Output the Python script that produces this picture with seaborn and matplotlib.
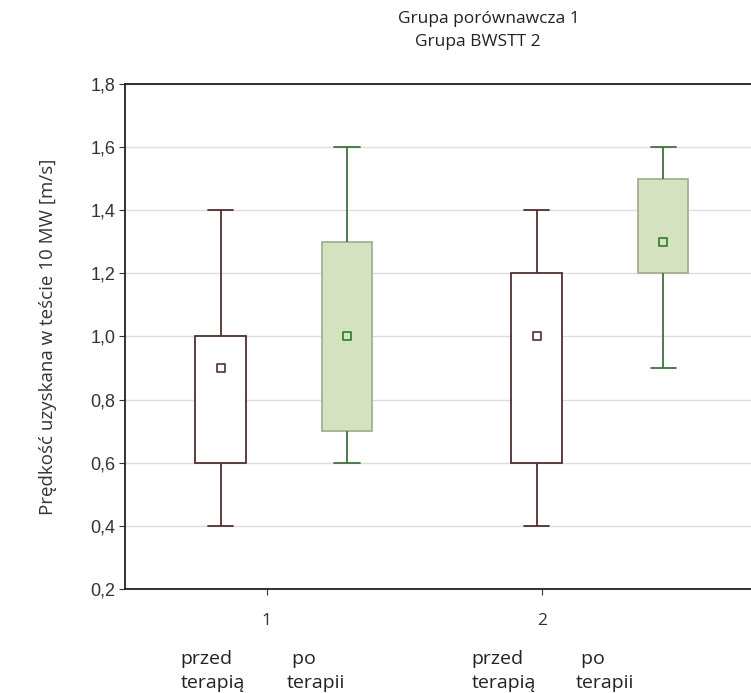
import pandas as pd
import numpy as np
import seaborn as sns
import matplotlib.pyplot as plt

# %%
# min, Q1, mediana, Q3, max
grupy = ['1', '2']
etapy = ['przed', 'po']
przed_1 = [0.4, 0.6, 0.9, 1.0, 1.4]
po_1 = [0.6, 0.7, 1.0, 1.3, 1.6]
przed_2 = [0.4, 0.6, 1.0, 1.2, 1.4]
po_2 = [0.9, 1.2, 1.3, 1.5, 1.6]
y_ticks = [0.2, 0.4, 0.6, 0.8, 1.0, 1.2, 1.4, 1.6, 1.8]

rows = []
for g, e, vals in [('1', 'przed', przed_1), ('1', 'po', po_1),
                   ('2', 'przed', przed_2), ('2', 'po', po_2)]:
    for v in vals:
        rows.append({'grupa': g, 'etap': e, 'v': v})
df = pd.DataFrame(rows)
med = df.groupby(['grupa', 'etap'], sort=False)['v'].median().reset_index()

# %%
sns.set_theme(style='white')
plt.rcParams['font.family'] = ['Open Sans', 'DejaVu Sans']

fig = plt.figure(figsize=(7.51, 6.93), dpi=100)
ax = fig.add_axes([0.1664, 0.150, 0.8336, 0.729])

kolory = {
    'przed': dict(fill='white', edge='#4f3030', line='#4f3030', mark='#4f3030', mfill='white'),
    'po': dict(fill='#d5e2bf', edge='#a3b092', line='#42703f', mark='#2f7a2c', mfill='#d5e2bf'),
}
paleta = {e: kolory[e]['fill'] for e in etapy}

for e in etapy:
    k = kolory[e]
    sub = df[df['etap'] == e]
    sns.boxplot(data=sub, x='grupa', y='v', hue='etap', hue_order=etapy, order=grupy,
                whis=(0, 100), gap=0.6, width=0.8, dodge=True, fill=True,
                palette=paleta, saturation=1, legend=False, ax=ax,
                boxprops=dict(edgecolor=k['edge'], linewidth=1.3),
                whiskerprops=dict(color=k['line'], linewidth=1.3),
                capprops=dict(color=k['line'], linewidth=1.3),
                medianprops=dict(linewidth=0))
    sns.stripplot(data=med[med['etap'] == e], x='grupa', y='v', hue='etap',
                  hue_order=etapy, order=grupy, dodge=True, jitter=False,
                  marker='s', size=6, linewidth=1.2, edgecolor=k['mark'],
                  palette=paleta, legend=False, ax=ax, zorder=5)

ax.set_xlim(-0.503, 1.478)
ax.set_ylim(0.2, 1.8)
ax.set_yticks(y_ticks)
ax.set_yticklabels([f'{t:.1f}'.replace('.', ',') for t in y_ticks],
                   fontsize=13, family='Liberation Sans', color='#333333')
ax.yaxis.grid(True, color='#dddddd', linewidth=1)
ax.set_axisbelow(True)
ax.set_xticks([-0.054, 0.816])
ax.set_xticklabels(grupy, fontsize=12.5, color='#333333')
ax.tick_params(axis='both', which='both', length=4, width=0.8, color='#333333',
               left=True, bottom=True, direction='out')
ax.tick_params(axis='x', pad=13)
ax.tick_params(axis='y', pad=3)
for s in ['left', 'bottom', 'top']:
    ax.spines[s].set_color('#222222')
    ax.spines[s].set_linewidth(1.3)
ax.spines['right'].set_visible(False)
ax.set_xlabel('')
ax.set_ylabel('Prędkość uzyskana w teście 10 MW [m/s]', fontsize=13.5, labelpad=24,
              color='#333333')

# podpisy etapów pod osią
pod = [(-0.328, 'przed\nterapią'), (0.010, ' po\nterapii'),
       (0.594, 'przed\nterapią'), (0.925, ' po\nterapii')]
for x, t in pod:
    ax.text(x, -0.121, t, transform=ax.get_xaxis_transform(), ha='left', va='top',
            fontsize=14, color='#222222', linespacing=1.4)

fig.text(0.651, 0.973, 'Grupa porównawcza 1', ha='center', va='center',
         fontsize=12.5, color='#222222')
fig.text(0.636, 0.940, 'Grupa BWSTT 2', ha='center', va='center',
         fontsize=12.5, color='#222222')

fig.savefig('out.png', dpi=100)
